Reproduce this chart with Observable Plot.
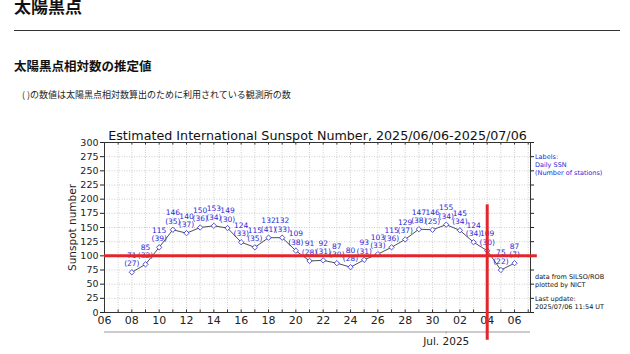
<!DOCTYPE html>
<html><head><meta charset="utf-8">
<script src="https://cdn.jsdelivr.net/npm/d3@7"></script>
<script src="https://cdn.jsdelivr.net/npm/@observablehq/plot@0.6"></script>
<style>
body{margin:0;width:630px;height:354px;overflow:hidden;background:#fff;position:relative;font-family:"Noto Sans CJK JP",sans-serif}
.a{position:absolute;white-space:nowrap}
.n{font-family:"DejaVu Sans",sans-serif;font-size:6.5px;line-height:8px}
#chart{position:absolute;left:0;top:120px}
</style></head><body>
<div class="a" style="left:14px;top:-5px;font-size:17px;font-weight:bold;line-height:22px;color:#111">太陽黒点</div>
<div class="a" style="left:14px;top:29.5px;width:606px;height:1px;background:#333"></div>
<div class="a" style="left:14px;top:58px;font-size:12.5px;font-weight:bold;line-height:16px;color:#111">太陽黒点相対数の推定値</div>
<div class="a" style="left:22px;top:89px;font-size:9px;line-height:12px;color:#222">( )の数値は太陽黒点相対数算出のために利用されている観測所の数</div>
<div class="a n" style="left:535px;top:153px;color:#2a2ad8">Labels:<br>Daily SSN<br>(Number of stations)</div>
<div class="a n" style="left:535px;top:273px;color:#111">data from SILSO/ROB<br>plotted by NICT</div>
<div class="a n" style="left:535px;top:295px;color:#111">Last update:<br>2025/07/06 11:54 UT</div>
<div id="chart"></div>
<script>
const chartTitle = "Estimated International Sunspot Number, 2025/06/06-2025/07/06";
const yTitle = "Sunspot number";
const dates = ["2025-06-08","2025-06-09","2025-06-10","2025-06-11","2025-06-12","2025-06-13","2025-06-14","2025-06-15","2025-06-16","2025-06-17","2025-06-18","2025-06-19","2025-06-20","2025-06-21","2025-06-22","2025-06-23","2025-06-24","2025-06-25","2025-06-26","2025-06-27","2025-06-28","2025-06-29","2025-06-30","2025-07-01","2025-07-02","2025-07-03","2025-07-04","2025-07-05","2025-07-06"];
const ssn = [71,85,115,146,140,150,153,149,124,115,132,132,109,91,92,87,80,93,103,115,129,147,146,155,145,124,109,75,87];
const stations = [27,32,39,35,37,36,34,30,33,35,41,33,38,28,31,30,28,31,33,36,37,38,25,34,34,34,30,22,7];
const xTickLabels = ["2025-06-06","2025-06-08","2025-06-10","2025-06-12","2025-06-14","2025-06-16","2025-06-18","2025-06-20","2025-06-22","2025-06-24","2025-06-26","2025-06-28","2025-06-30","2025-07-02","2025-07-04","2025-07-06"];
const yTicks = [0,25,50,75,100,125,150,175,200,225,250,275,300];
const monthLabel = "Jul. 2025";
const monthDate = "2025-07-01";
const redLevel = 100;
const redDate = "2025-07-04";

const P = s => new Date(s + "T00:00:00Z");
const data = dates.map((d, i) => ({date: P(d), ssn: ssn[i], st: stations[i]}));
const x0 = P("2025-06-06"), x1 = new Date(Date.UTC(2025, 6, 7, 4));
const days = d3.utcDay.range(x0, x1);
const blue = "#2a2ad8", red = "#e3262b";

const chart = Plot.plot({
  width: 630, height: 234,
  marginTop: 22, marginBottom: 42, marginLeft: 104, marginRight: 100,
  style: {fontFamily: "DejaVu Sans, sans-serif", background: "transparent", color: "#222"},
  x: {type: "utc", domain: [x0, x1]},
  y: {domain: [0, 300]},
  marks: [
    Plot.gridX(days, {stroke: "#bbb", strokeOpacity: 0.7, strokeDasharray: "1,1.5"}),
    Plot.gridY(yTicks, {stroke: "#bbb", strokeOpacity: 0.7, strokeDasharray: "1,1.5"}),
    Plot.ruleX(days, {y1: 0, y2: 4.5, stroke: "#333"}),
    Plot.ruleX(days, {y1: 300, y2: 295.5, stroke: "#333"}),
    Plot.axisX(xTickLabels.map(P), {tickFormat: "%d", tickSize: 0, tickPadding: 4, fontSize: 11, label: null}),
    Plot.axisY(yTicks, {tickSize: 4, tickPadding: 2, fontSize: 9.5, label: null}),
    Plot.text([yTitle], {frameAnchor: "left", textAnchor: "middle", dx: -32, rotate: -90, fontSize: 10.5, fill: "#222"}),
    Plot.axisY(yTicks, {anchor: "right", tickSize: 3, tickFormat: () => "", label: null}),
    Plot.frame({stroke: "#333"}),
    Plot.ruleY([-34.4], {x1: x0, x2: x1, stroke: "#999"}),
    Plot.ruleX([P(monthDate)], {y1: -34.4, y2: -38, stroke: "#999"}),
    Plot.text([monthLabel], {x: P(monthDate), y: -51.5, fontSize: 10.5, fill: "#222"}),
    Plot.text([chartTitle], {frameAnchor: "top", dy: -12, fontSize: 12.7, fill: "#111"}),
    Plot.line(data, {x: "date", y: "ssn", stroke: "#222", strokeWidth: 0.8}),
    Plot.dot(data, {x: "date", y: "ssn", symbol: "diamond2", r: 2.4, stroke: blue, fill: "white", strokeWidth: 0.8}),
    Plot.text(data, {x: "date", y: "ssn", text: d => String(d.ssn), dy: -17, fontSize: 7.5, fill: blue}),
    Plot.text(data, {x: "date", y: "ssn", text: d => `(${d.st})`, dy: -8.5, fontSize: 7.5, fill: blue}),
    Plot.ruleY([redLevel], {x1: x0, x2: new Date(Date.UTC(2025, 6, 7, 16)), stroke: red, strokeWidth: 3}),
    Plot.ruleX([P(redDate)], {y1: 190, y2: -49, stroke: red, strokeWidth: 3})
  ]
});
document.getElementById("chart").appendChild(chart);
</script>
</body></html>
